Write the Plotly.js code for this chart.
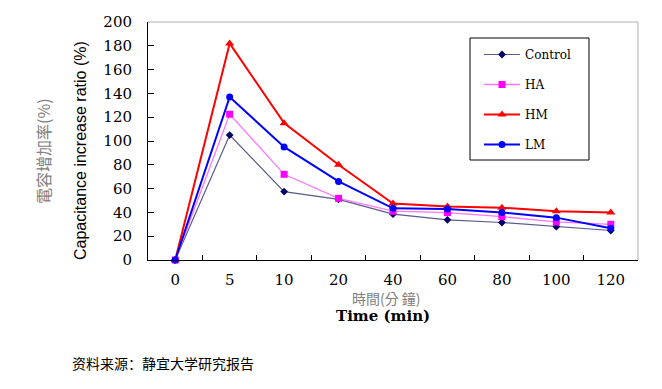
<!DOCTYPE html>
<html><head><meta charset="utf-8">
<script src="https://cdn.plot.ly/plotly-3.0.1.min.js"></script>
<style>html,body{margin:0;padding:0;background:#fff;}#chart{width:662px;height:389px;}</style>
</head><body><div id="chart"></div>
<script>
const times = ['0','5','10','20','40','60','80','100','120'];
const control = [0,105,57.5,51,38.5,33.8,31.5,28,24.8];
const ha = [0,122.5,72,51.8,41,39.8,36.4,32,30];
const hm = [0,182,115,80,47.5,45,44,41,40];
const lm = [0,137,95,66,43.4,42.8,40,35.6,26.6];
const yTicks = [0,20,40,60,80,100,120,140,160,180,200];

const serif = '"DejaVu Serif", "Liberation Serif", serif';
function tr(name, y, color, lw, sym, ms, mcolor){
  return {type:'scatter', mode:'lines+markers', x:times, y:y, name:name, legendgroup:name,
    line:{color:color, width:lw}, marker:{symbol:sym, size:ms, color:mcolor}, cliponaxis:false};
}
const data = [
  tr('Control', control, '#5a5a8c', 1.2, 'diamond', 6, '#000066'),
  tr('HA', ha, '#ff77ff', 1.3, 'square', 7, '#ff00ff'),
  tr('HM', hm, '#ff0000', 2, 'triangle-up', 8, '#ff0000'),
  tr('LM', lm, '#0000ff', 2, 'circle', 7, '#0000ff')
];
const layout = {
  width:662, height:389,
  margin:{l:148, r:24, t:22, b:129},
  paper_bgcolor:'#fff', plot_bgcolor:'#fff',
  showlegend:true,
  legend:{x:(479-148)/490, y:(260-40)/238, xanchor:'left', yanchor:'top', bgcolor:'rgba(0,0,0,0)',
    borderwidth:0, itemwidth:36, font:{family:serif, size:12, color:'#000'}, tracegroupgap:11},
  xaxis:{type:'category', range:[-0.5,8.5], tickson:'boundaries', ticks:'inside', ticklen:5,
    tickcolor:'#000', showline:true, linecolor:'#000', linewidth:1, showgrid:false, zeroline:false,
    tickfont:{family:serif, size:15, color:'#000'}, ticklabelstandoff:6, fixedrange:true},
  yaxis:{range:[0,200], tickvals:yTicks, ticks:'inside', ticklen:6, tickcolor:'#000',
    showline:true, linecolor:'#000', linewidth:1, showgrid:false, zeroline:false,
    tickfont:{family:serif, size:15, color:'#000'}, ticklabelstandoff:12, fixedrange:true},
  shapes:[
    {type:'line', xref:'paper', yref:'paper', x0:0, x1:1, y0:1, y1:1, line:{color:'#b0b0b0', width:1}},
    {type:'line', xref:'paper', yref:'paper', x0:1, x1:1, y0:0, y1:1, line:{color:'#b0b0b0', width:1}},
    {type:'rect', xref:'paper', yref:'paper', x0:(470-148)/490, x1:(589-148)/490, y0:(260-160)/238, y1:(260-38)/238, line:{color:'#000', width:1}}
  ],
  annotations:[
    {text:'Capacitance increase ratio (%)', xref:'paper', yref:'paper', x:(80-148)/490, y:(260-151)/238,
      xanchor:'center', yanchor:'middle', textangle:-90, showarrow:false,
      font:{family:'"Liberation Sans", Arial, sans-serif', size:16, color:'#000'}},
    {text:'電容增加率(%)', xref:'paper', yref:'paper', x:(43-148)/490, y:(260-151)/238,
      xanchor:'center', yanchor:'middle', textangle:-90, showarrow:false,
      font:{family:'"Noto Sans CJK TC", sans-serif', size:16, color:'#808080'}},
    {text:'時間(分 鐘)', xref:'paper', yref:'paper', x:(386-148)/490, y:(260-298)/238,
      xanchor:'center', yanchor:'middle', showarrow:false,
      font:{family:'"Noto Sans CJK TC", serif', size:14, color:'#808080'}},
    {text:'<b>Time (min)</b>', xref:'paper', yref:'paper', x:(383-148)/490, y:(260-316)/238,
      xanchor:'center', yanchor:'middle', showarrow:false,
      font:{family:serif, size:15, color:'#000'}},
    {text:'资料来源：静宜大学研究报告', xref:'paper', yref:'paper', x:(70-148)/490, y:(260-363)/238,
      xanchor:'left', yanchor:'middle', showarrow:false,
      font:{family:'"Noto Sans CJK SC", sans-serif', size:14, color:'#000'}}
  ]
};
Plotly.newPlot('chart', data, layout, {displayModeBar:false, staticPlot:true});
</script></body></html>
